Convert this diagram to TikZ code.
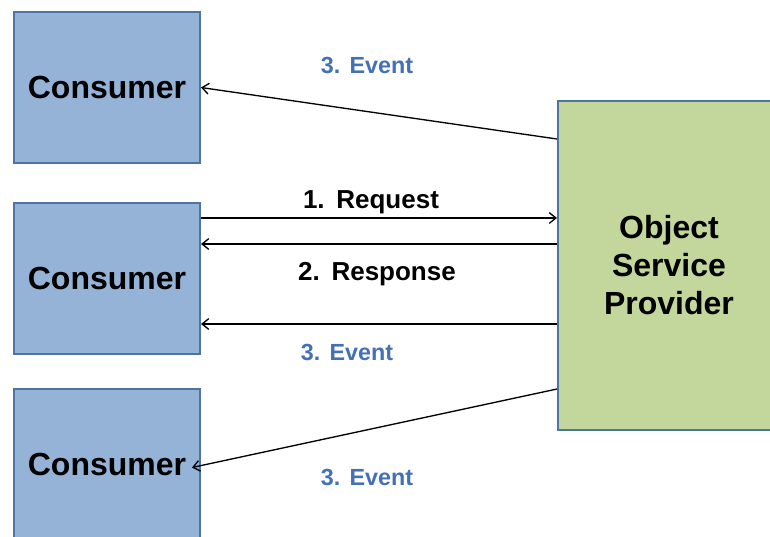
\documentclass[tikz,border=0pt]{standalone}
\usepackage{fontspec}
\setmainfont{Liberation Sans}
\usetikzlibrary{arrows.meta,calc}
\definecolor{cfill}{HTML}{95B3D7}
\definecolor{pfill}{HTML}{C3D69B}
\definecolor{bord}{HTML}{4E74A6}
\definecolor{evt}{HTML}{4470B5}
\begin{document}
\begin{tikzpicture}[x=0.75pt,y=-0.75pt,
 box/.style={draw=bord, line width=1.5pt, fill=cfill, minimum width=139.5pt, minimum height=113.25pt, inner sep=0pt, anchor=north west, font=\bfseries\fontsize{24}{28}\selectfont},
 prov/.style={draw=bord, line width=1.5pt, fill=pfill, minimum width=166.5pt, minimum height=246.75pt, inner sep=0pt, anchor=north west, align=center, font=\bfseries\fontsize{24}{28.5}\selectfont},
 conn/.style={line width=1pt, -{Straight Barb[length=5pt,width=8pt]}},
 lab/.style={font=\bfseries\fontsize{19.5}{23}\selectfont, inner sep=0pt, anchor=base},
 evlab/.style={font=\bfseries\fontsize{17.5}{21}\selectfont, text=evt, inner sep=0pt, anchor=base}]
\useasboundingbox (0,0) rectangle (770,536);
\clip (0,0) rectangle (770,536);
\node[box] (c1) at (13,11) {Consumer};
\node[box] (c2) at (13,202) {Consumer};
\node[box] (c3) at (13,388) {Consumer};
\node[prov] (p) at (557,100) {Object\\Service\\Provider};
% connectors
\coordinate (e1) at ($(p.north west)+(0,39)$);
\draw[conn] (e1) -- (c1.east);
\coordinate (r1) at ($(c2.north east)+(0,16)$);
\draw[conn] (r1) -- (r1 -| p.west);
\coordinate (r2) at ($(c2.north east)+(0,42)$);
\draw[conn] (r2 -| p.west) -- (r2);
\coordinate (r3) at ($(c2.north east)+(0,122)$);
\draw[conn] (r3 -| p.west) -- (r3);
\coordinate (e3) at ($(p.north west)+(0,289)$);
\coordinate (t3) at ($(c3.east)+(-9,3)$);
\draw[conn] (e3) -- (t3);
% labels
\node[evlab] (l1) at (367,73) {3.\hspace{0.4em}Event};
\node[lab] (l2) at (371,208) {1.\hspace{0.45em}Request};
\node[lab] (l3) at (377,280) {2.\hspace{0.45em}Response};
\node[evlab] (l4) at (347,360) {3.\hspace{0.4em}Event};
\node[evlab] (l5) at (367,485) {3.\hspace{0.4em}Event};
\end{tikzpicture}
\end{document}
